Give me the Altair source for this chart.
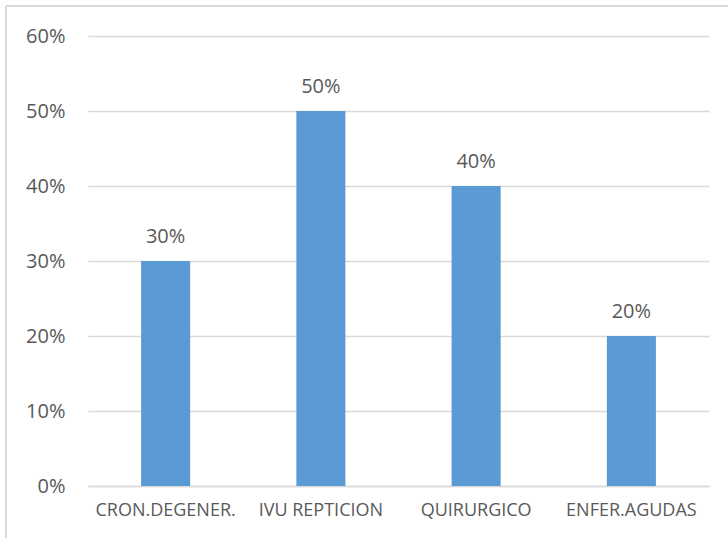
import altair as alt
import pandas as pd

categories = ["CRON.DEGENER.", "IVU REPTICION", "QUIRURGICO", "ENFER.AGUDAS"]
values = [0.30, 0.50, 0.40, 0.20]
y_ticks = [0, 0.1, 0.2, 0.3, 0.4, 0.5, 0.6]

df = pd.DataFrame({"categoria": categories, "valor": values})

FONT = "Open Sans"
TEXT = "#595959"
GRID = "#D9D9D9"
BAR = "#5B9BD5"

base = alt.Chart(df).encode(
    x=alt.X(
        "categoria:N",
        sort=categories,
        scale=alt.Scale(paddingInner=0, paddingOuter=0),
        axis=alt.Axis(
            title=None, labelAngle=0, ticks=False, domain=True, domainColor=GRID,
            domainWidth=1.5, labelFont=FONT, labelFontSize=18, labelColor=TEXT,
            labelPadding=15,
        ),
    ),
    y=alt.Y(
        "valor:Q",
        scale=alt.Scale(domain=[0, 0.6], nice=False),
        axis=alt.Axis(
            title=None, values=y_ticks, format=".0%", ticks=False, domain=False,
            gridColor=GRID, gridWidth=1.5, labelFont=FONT, labelFontSize=20,
            labelColor=TEXT, labelPadding=23,
        ),
    ),
)

bars = base.mark_bar(color=BAR, width=alt.RelativeBandSize(0.316))

labels = base.mark_text(
    font=FONT, fontSize=20, color=TEXT, dy=-18, baseline="alphabetic"
).encode(text=alt.Text("valor:Q", format=".0%"))

# Outer frame lines (top and left edges of the chart area)
frame_top = alt.Chart(df).mark_rule(color=GRID, strokeWidth=1.5).encode(
    x=alt.value(-82), x2=alt.value(640), y=alt.value(-30)
)
frame_left = alt.Chart(df).mark_rule(color=GRID, strokeWidth=1.5).encode(
    x=alt.value(-82), y=alt.value(-30), y2=alt.value(502)
)

chart = (
    alt.layer(bars, labels, frame_top, frame_left)
    .properties(
        width=621,
        height=450,
        autosize=alt.AutoSizeParams(type="none"),
        padding={"left": 88, "top": 36, "right": 19, "bottom": 52},
        background="white",
    )
    .configure_view(stroke=None)
)

chart.save("out.html", embed_options={"renderer": "svg", "actions": False})
